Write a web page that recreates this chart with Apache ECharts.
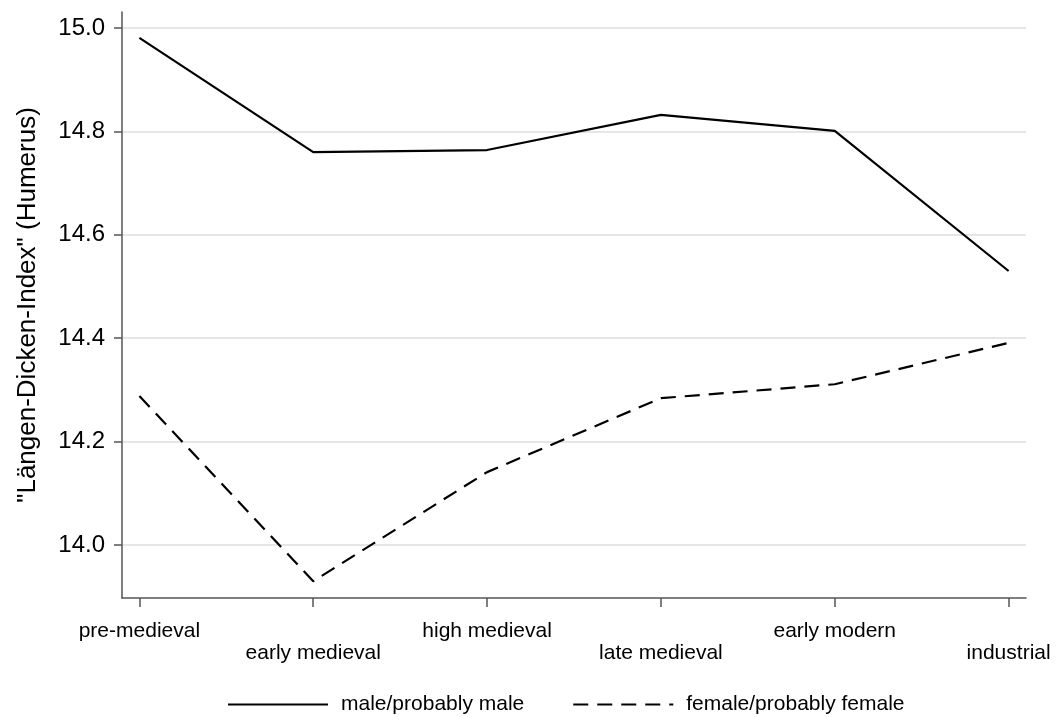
<!DOCTYPE html>
<html>
<head>
<meta charset="utf-8">
<script src="https://cdn.jsdelivr.net/npm/echarts@6/dist/echarts.min.js"></script>
<style>
  html, body { margin: 0; padding: 0; background: #fff; }
  #chart { width: 1058px; height: 717px; }
</style>
</head>
<body>
<div id="chart"></div>
<script>
var periods = ['pre-medieval', 'early medieval', 'high medieval', 'late medieval', 'early modern', 'industrial'];
var maleValues = [14.981, 14.760, 14.764, 14.832, 14.801, 14.530];
var femaleValues = [14.288, 13.930, 14.141, 14.284, 14.311, 14.391];
var yTicks = [14.0, 14.2, 14.4, 14.6, 14.8, 15.0];

(function () {
    var mychart = echarts.init(document.getElementById('chart'));

    var positions = periods.map(function (p, i) { return i; });

    var option = {
        animation: false,
        textStyle: { fontFamily: 'Liberation Sans, Arial, sans-serif' },
        grid: { left: 122, right: 32, top: 12, bottom: 119 },
        legend: {
            left: 222,
            top: 689,
            itemWidth: 100,
            itemHeight: 14,
            itemGap: 48,
            itemStyle: { opacity: 0 },
            textStyle: { fontSize: 21, color: '#000', padding: [0, 0, 0, 8] },
            data: ['male/probably male', 'female/probably female']
        },
        xAxis: {
            type: 'value',
            min: -0.1,
            max: 5.1,
            axisLine: { onZero: false, lineStyle: { color: '#555', width: 1.5 } },
            axisTick: { customValues: positions, length: 9, lineStyle: { color: '#555', width: 1.5 } },
            axisLabel: {
                customValues: positions,
                fontSize: 21,
                color: '#000',
                margin: 22,
                lineHeight: 22,
                formatter: function (v) {
                    var i = Math.round(v);
                    return i % 2 === 1 ? '\n' + periods[i] : periods[i];
                }
            },
            splitLine: { show: false }
        },
        yAxis: {
            type: 'value',
            min: 13.8975,
            max: 15.031,
            name: '"Längen-Dicken-Index" (Humerus)',
            nameLocation: 'middle',
            nameGap: 81,
            nameTextStyle: { fontSize: 26, color: '#000' },
            axisLine: { show: true, onZero: false, lineStyle: { color: '#555', width: 1.5 } },
            axisTick: { show: true, customValues: yTicks, length: 8, lineStyle: { color: '#555', width: 1.5 } },
            axisLabel: {
                customValues: yTicks,
                fontSize: 24,
                color: '#000',
                margin: 17,
                formatter: function (v) { return v.toFixed(1); }
            },
            splitLine: { show: true, lineStyle: { color: '#e6e6e6', width: 2 } }
        },
        series: [
            {
                name: 'male/probably male',
                type: 'line',
                symbol: 'none',
                lineStyle: { color: '#000', width: 2.2, type: 'solid' },
                itemStyle: { color: '#000' },
                data: maleValues.map(function (v, i) { return [i, v]; })
            },
            {
                name: 'female/probably female',
                type: 'line',
                symbol: 'none',
                lineStyle: { color: '#000', width: 2.2, type: [15, 9] },
                itemStyle: { color: '#000' },
                data: femaleValues.map(function (v, i) { return [i, v]; })
            }
        ]
    };
    mychart.setOption(option);
})();
</script>
</body>
</html>
